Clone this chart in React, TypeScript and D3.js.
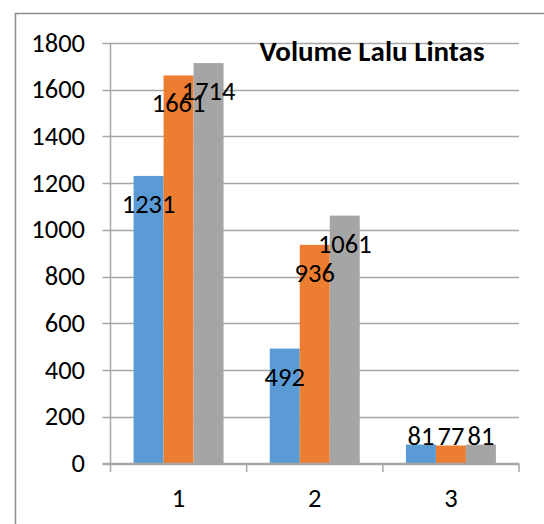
import React from "react";
import * as d3 from "d3";

const categories = ["1", "2", "3"];
const seriesA = [1231, 492, 81];
const seriesB = [1661, 936, 77];
const seriesC = [1714, 1061, 81];
const yTicks = [0, 200, 400, 600, 800, 1000, 1200, 1400, 1600, 1800];
const colors = ["#5B9BD5", "#ED7D31", "#A5A5A5"];

const series = [seriesA, seriesB, seriesC];

export default function App() {
  const width = 544;
  const height = 524;
  const left = 110.5;
  const right = 519;
  const top = 43;
  const bottom = 463.5;
  const font = "Carlito, Calibri, Lato, sans-serif";
  const fs = 26.5;

  const y = d3.scaleLinear().domain([0, 1800]).range([bottom, top]);
  const x = d3.scaleBand().domain(categories).range([left, right]).paddingInner(0).paddingOuter(0);
  // three bars per category, gap on each side
  const inner = d3
    .scaleBand()
    .domain(series.map((_, i) => String(i)))
    .range([0, x.bandwidth()])
    .paddingOuter(0.77)
    .paddingInner(0);

  const bounds = [...x.domain().map((c) => x(c)!), right];

  return (
    <svg
      width={width}
      height={height}
      style={{ position: "absolute", left: 0, top: 0, background: "#fff" }}
      fontFamily={font}
    >
      {/* chart area border */}
      <rect x={15.5} y={13.5} width={560} height={560} fill="none" stroke="#8c8c8c" strokeWidth={1.5} />

      {/* gridlines and y labels */}
      {yTicks.map((t) => (
        <g key={t}>
          <line x1={left - 8} x2={right} y1={Math.round(y(t)) + 0.5} y2={Math.round(y(t)) + 0.5} stroke="#a6a6a6" strokeWidth={1.5} />
          <text x={85} y={y(t) + 8.5} textAnchor="end" fontSize={fs} fill="#000">
            {t}
          </text>
        </g>
      ))}

      {/* bars */}
      {categories.map((c, ci) =>
        series.map((s, si) => (
          <rect
            key={c + si}
            x={x(c)! + inner(String(si))!}
            y={y(s[ci])}
            width={inner.bandwidth()}
            height={bottom - y(s[ci])}
            fill={colors[si]}
          />
        ))
      )}

      {/* axes */}
      <line x1={left} x2={left} y1={top} y2={bottom} stroke="#a6a6a6" strokeWidth={1.5} />
      <line x1={left - 8} x2={right} y1={bottom} y2={bottom} stroke="#a6a6a6" strokeWidth={1.5} />
      {bounds.map((b, i) => (
        <line key={i} x1={b} x2={b} y1={bottom} y2={bottom + 8.5} stroke="#a6a6a6" strokeWidth={1.5} />
      ))}

      {/* category labels */}
      {categories.map((c) => (
        <text key={c} x={x(c)! + x.bandwidth() / 2} y={507} textAnchor="middle" fontSize={fs} fill="#000">
          {c}
        </text>
      ))}

      {/* data labels */}
      {categories.map((c, ci) =>
        series.map((s, si) => (
          <text
            key={"l" + c + si}
            x={x(c)! + inner(String(si))! + inner.bandwidth() / 2}
            y={Math.min(y(s[ci]) + 37, bottom - 19)}
            textAnchor="middle"
            fontSize={fs}
            fill="#000"
          >
            {s[ci]}
          </text>
        ))
      )}

      {/* title */}
      <text x={372} y={61} textAnchor="middle" fontSize={29} fontWeight="bold" fill="#000">
        Volume Lalu Lintas
      </text>
    </svg>
  );
}
